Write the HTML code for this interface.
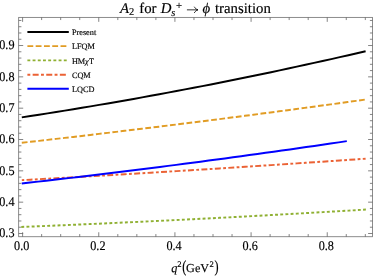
<!DOCTYPE html>
<html><head><meta charset="utf-8"><title>A2 for Ds+ to phi transition</title>
<style>
html,body{margin:0;padding:0;background:#fff;}
body{width:374px;height:278px;overflow:hidden;font-family:"Liberation Serif",serif;}
svg{display:block;will-change:transform;font-family:"Liberation Serif",serif;}
text{fill:#000;text-rendering:geometricPrecision;stroke:#000;stroke-width:0.15px;}
</style></head><body>
<svg width="374" height="278" viewBox="0 0 374 278">
<rect width="374" height="278" fill="#fff"/>
<rect x="18.7" y="17.35" width="353.90000000000003" height="219.4" fill="none" stroke="#666" stroke-width="0.75"/>
<path d="M22.60 236.75v-4.5M22.60 17.35v4.5M41.64 236.75v-2.7M41.64 17.35v2.7M60.68 236.75v-2.7M60.68 17.35v2.7M79.72 236.75v-2.7M79.72 17.35v2.7M98.76 236.75v-4.5M98.76 17.35v4.5M117.80 236.75v-2.7M117.80 17.35v2.7M136.84 236.75v-2.7M136.84 17.35v2.7M155.88 236.75v-2.7M155.88 17.35v2.7M174.92 236.75v-4.5M174.92 17.35v4.5M193.96 236.75v-2.7M193.96 17.35v2.7M213.00 236.75v-2.7M213.00 17.35v2.7M232.04 236.75v-2.7M232.04 17.35v2.7M251.08 236.75v-4.5M251.08 17.35v4.5M270.12 236.75v-2.7M270.12 17.35v2.7M289.16 236.75v-2.7M289.16 17.35v2.7M308.20 236.75v-2.7M308.20 17.35v2.7M327.24 236.75v-4.5M327.24 17.35v4.5M346.28 236.75v-2.7M346.28 17.35v2.7M365.32 236.75v-2.7M365.32 17.35v2.7M18.7 233.50h4.5M372.6 233.50h-4.5M18.7 227.23h2.7M372.6 227.23h-2.7M18.7 220.97h2.7M372.6 220.97h-2.7M18.7 214.70h2.7M372.6 214.70h-2.7M18.7 208.44h2.7M372.6 208.44h-2.7M18.7 202.17h4.5M372.6 202.17h-4.5M18.7 195.90h2.7M372.6 195.90h-2.7M18.7 189.64h2.7M372.6 189.64h-2.7M18.7 183.37h2.7M372.6 183.37h-2.7M18.7 177.11h2.7M372.6 177.11h-2.7M18.7 170.84h4.5M372.6 170.84h-4.5M18.7 164.57h2.7M372.6 164.57h-2.7M18.7 158.31h2.7M372.6 158.31h-2.7M18.7 152.04h2.7M372.6 152.04h-2.7M18.7 145.78h2.7M372.6 145.78h-2.7M18.7 139.51h4.5M372.6 139.51h-4.5M18.7 133.24h2.7M372.6 133.24h-2.7M18.7 126.98h2.7M372.6 126.98h-2.7M18.7 120.71h2.7M372.6 120.71h-2.7M18.7 114.45h2.7M372.6 114.45h-2.7M18.7 108.18h4.5M372.6 108.18h-4.5M18.7 101.91h2.7M372.6 101.91h-2.7M18.7 95.65h2.7M372.6 95.65h-2.7M18.7 89.38h2.7M372.6 89.38h-2.7M18.7 83.12h2.7M372.6 83.12h-2.7M18.7 76.85h4.5M372.6 76.85h-4.5M18.7 70.58h2.7M372.6 70.58h-2.7M18.7 64.32h2.7M372.6 64.32h-2.7M18.7 58.05h2.7M372.6 58.05h-2.7M18.7 51.79h2.7M372.6 51.79h-2.7M18.7 45.52h4.5M372.6 45.52h-4.5M18.7 39.25h2.7M372.6 39.25h-2.7M18.7 32.99h2.7M372.6 32.99h-2.7M18.7 26.72h2.7M372.6 26.72h-2.7M18.7 20.46h2.7M372.6 20.46h-2.7" fill="none" stroke="#666" stroke-width="0.8"/>
<path d="M21.30,226.95 L29.91,226.60 L38.53,226.25 L47.14,225.90 L55.76,225.54 L64.38,225.17 L72.99,224.80 L81.60,224.43 L90.22,224.05 L98.83,223.67 L107.45,223.28 L116.06,222.89 L124.68,222.49 L133.29,222.09 L141.91,221.69 L150.52,221.28 L159.14,220.86 L167.75,220.44 L176.37,220.02 L184.99,219.59 L193.60,219.16 L202.22,218.72 L210.83,218.28 L219.44,217.84 L228.06,217.38 L236.68,216.93 L245.29,216.47 L253.90,216.01 L262.52,215.54 L271.13,215.06 L279.75,214.58 L288.36,214.10 L296.98,213.62 L305.59,213.12 L314.21,212.63 L322.82,212.13 L331.44,211.62 L340.06,211.11 L348.67,210.60 L357.28,210.08 L365.90,209.56" fill="none" stroke="#8fb032" stroke-width="1.95" stroke-dasharray="2.9 2.285" stroke-dashoffset="0"/>
<path d="M21.80,180.14 L30.40,179.66 L38.99,179.19 L47.59,178.71 L56.18,178.22 L64.78,177.74 L73.37,177.25 L81.97,176.75 L90.56,176.26 L99.16,175.76 L107.75,175.25 L116.34,174.75 L124.94,174.24 L133.54,173.73 L142.13,173.21 L150.73,172.69 L159.32,172.17 L167.92,171.65 L176.51,171.12 L185.11,170.59 L193.70,170.05 L202.30,169.52 L210.89,168.98 L219.49,168.43 L228.08,167.88 L236.68,167.33 L245.27,166.78 L253.87,166.22 L262.46,165.66 L271.06,165.10 L279.65,164.54 L288.25,163.97 L296.84,163.39 L305.44,162.82 L314.03,162.24 L322.62,161.66 L331.22,161.07 L339.81,160.48 L348.41,159.89 L357.01,159.30 L365.60,158.70" fill="none" stroke="#eb6235" stroke-width="1.95" stroke-dasharray="2.8 2.35 5.95 2.375" stroke-dashoffset="0.4"/>
<path d="M21.80,183.48 L29.93,182.57 L38.05,181.64 L46.17,180.72 L54.30,179.78 L62.42,178.84 L70.55,177.89 L78.67,176.93 L86.80,175.96 L94.92,174.99 L103.05,174.01 L111.17,173.02 L119.30,172.03 L127.42,171.03 L135.55,170.02 L143.68,169.00 L151.80,167.97 L159.93,166.94 L168.05,165.90 L176.18,164.85 L184.30,163.80 L192.43,162.74 L200.55,161.67 L208.68,160.59 L216.80,159.51 L224.93,158.41 L233.05,157.31 L241.18,156.21 L249.30,155.09 L257.43,153.97 L265.55,152.84 L273.68,151.70 L281.80,150.56 L289.93,149.41 L298.05,148.25 L306.18,147.08 L314.30,145.91 L322.43,144.73 L330.55,143.54 L338.68,142.34 L346.80,141.14" fill="none" stroke="#0000ff" stroke-width="1.95"/>
<path d="M21.80,142.78 L30.38,141.82 L38.95,140.85 L47.53,139.87 L56.10,138.89 L64.67,137.90 L73.25,136.91 L81.83,135.91 L90.40,134.91 L98.97,133.90 L107.55,132.88 L116.12,131.86 L124.70,130.83 L133.28,129.80 L141.85,128.76 L150.43,127.71 L159.00,126.66 L167.58,125.61 L176.15,124.54 L184.73,123.47 L193.30,122.40 L201.88,121.32 L210.45,120.23 L219.03,119.14 L227.60,118.04 L236.18,116.93 L244.75,115.82 L253.33,114.71 L261.90,113.58 L270.48,112.45 L279.05,111.32 L287.62,110.18 L296.20,109.03 L304.78,107.88 L313.35,106.72 L321.93,105.56 L330.50,104.39 L339.07,103.21 L347.65,102.03 L356.23,100.85 L364.80,99.65" fill="none" stroke="#e19c24" stroke-width="1.95" stroke-dasharray="5.75 2.541" stroke-dashoffset="0"/>
<path d="M21.80,117.36 L30.40,116.04 L38.99,114.71 L47.59,113.36 L56.18,112.00 L64.78,110.61 L73.37,109.21 L81.97,107.79 L90.56,106.36 L99.16,104.91 L107.75,103.43 L116.34,101.95 L124.94,100.44 L133.54,98.92 L142.13,97.38 L150.73,95.82 L159.32,94.24 L167.92,92.65 L176.51,91.04 L185.11,89.41 L193.70,87.77 L202.30,86.11 L210.89,84.43 L219.49,82.73 L228.08,81.01 L236.68,79.28 L245.27,77.53 L253.87,75.77 L262.46,73.98 L271.06,72.18 L279.65,70.36 L288.25,68.52 L296.84,66.67 L305.44,64.80 L314.03,62.91 L322.62,61.00 L331.22,59.08 L339.81,57.14 L348.41,55.18 L357.01,53.20 L365.60,51.21" fill="none" stroke="#000000" stroke-width="1.95"/>
<path d="M27.4 32.0H68.8" fill="none" stroke="#000000" stroke-width="1.95"/>
<text x="71.9" y="34.9" font-size="8.25">Present</text>
<path d="M27.4 46.1H68.8" fill="none" stroke="#e19c24" stroke-width="1.95" stroke-dasharray="5.85 2.43"/>
<text x="71.9" y="49.1" font-size="8.25">LFQM</text>
<path d="M27.4 60.35H68.8" fill="none" stroke="#8fb032" stroke-width="1.95" stroke-dasharray="2.9 2.3"/>
<text x="71.9" y="63.75" font-size="8.25">HM</text>
<text x="85.0" y="64.25" font-size="8.3" font-style="italic">χ</text>
<text x="88.9" y="63.75" font-size="8.3">T</text>
<path d="M27.4 74.7H66.6" fill="none" stroke="#eb6235" stroke-width="1.95" stroke-dasharray="2.9 2.35 6.0 2.35"/>
<text x="71.9" y="77.6" font-size="8.25">CQM</text>
<path d="M27.4 88.8H68.8" fill="none" stroke="#0000ff" stroke-width="1.95"/>
<text x="71.9" y="91.6" font-size="8.25">LQCD</text>
<text transform="translate(21.70 250.1) scale(1 1.085)" font-size="12.2" text-anchor="middle">0.0</text>
<text transform="translate(97.86 250.1) scale(1 1.085)" font-size="12.2" text-anchor="middle">0.2</text>
<text transform="translate(174.02 250.1) scale(1 1.085)" font-size="12.2" text-anchor="middle">0.4</text>
<text transform="translate(250.18 250.1) scale(1 1.085)" font-size="12.2" text-anchor="middle">0.6</text>
<text transform="translate(326.34 250.1) scale(1 1.085)" font-size="12.2" text-anchor="middle">0.8</text>
<text transform="translate(14.5 237.35) scale(1 1.085)" font-size="12.2" text-anchor="end">0.3</text>
<text transform="translate(14.5 206.02) scale(1 1.085)" font-size="12.2" text-anchor="end">0.4</text>
<text transform="translate(14.5 174.69) scale(1 1.085)" font-size="12.2" text-anchor="end">0.5</text>
<text transform="translate(14.5 143.36) scale(1 1.085)" font-size="12.2" text-anchor="end">0.6</text>
<text transform="translate(14.5 112.03) scale(1 1.085)" font-size="12.2" text-anchor="end">0.7</text>
<text transform="translate(14.5 80.70) scale(1 1.085)" font-size="12.2" text-anchor="end">0.8</text>
<text transform="translate(14.5 49.37) scale(1 1.085)" font-size="12.2" text-anchor="end">0.9</text>
<text x="120.1" y="12.9" font-size="14.8" font-style="italic">A</text>
<text x="128.9" y="15.100000000000001" font-size="10.5">2</text>
<text x="139.3" y="12.9" font-size="14.8">for</text>
<text x="160.7" y="13.0" font-size="14.8" font-style="italic">D</text>
<text x="171.2" y="16.0" font-size="10.5" font-style="italic">s</text>
<text x="176.1" y="9.2" font-size="10.8">+</text>
<path d="M187.3 9.85H197.6M194.4 7.05C195.2 8.45 196.4 9.35 198.0 9.85C196.4 10.35 195.2 11.25 194.4 12.65" fill="none" stroke="#000" stroke-width="0.8" stroke-linecap="round" stroke-linejoin="round"/>
<text x="202.4" y="12.9" font-size="14.8" font-style="italic">ϕ</text>
<text x="215.0" y="12.9" font-size="14.8">transition</text>
<text x="171.2" y="271.9" font-size="12.2" font-style="italic">q</text>
<text x="177.2" y="266.59999999999997" font-size="8.6">2</text>
<text transform="translate(182.3 272.4) scale(1 1.38)" font-size="12.2" stroke-width="0">(</text>
<text x="186.1" y="271.9" font-size="12.2">GeV</text>
<text x="209.4" y="266.59999999999997" font-size="8.6">2</text>
<text transform="translate(214.6 272.4) scale(1 1.38)" font-size="12.2" stroke-width="0">)</text>
</svg>
</body></html>
